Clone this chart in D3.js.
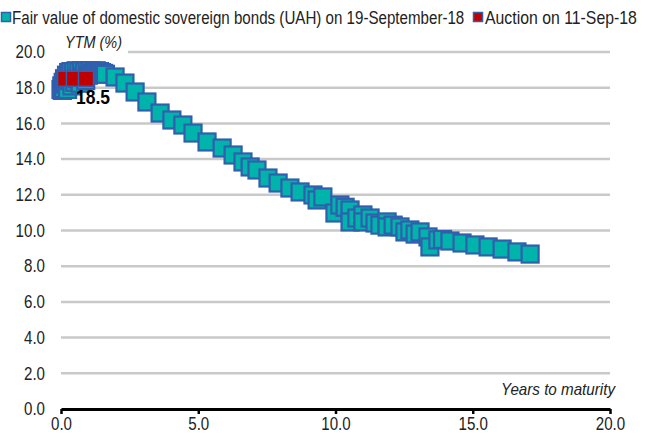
<!DOCTYPE html>
<html>
<head>
<meta charset="utf-8">
<script src="https://cdn.jsdelivr.net/npm/d3@7"></script>
<style>
  body { margin: 0; background: #fff; }
  svg text { font-family: "Liberation Sans", Arial, sans-serif; }
</style>
</head>
<body>
<div id="chart"></div>
<script>
// fair value curve, 19-Sep-18: years to maturity / YTM %
const fairYears = [0.0, 0.03, 0.05, 0.08, 0.1, 0.13, 0.16, 0.2, 0.24, 0.28, 0.32, 0.36, 0.4, 0.45, 0.5, 0.55, 0.6, 0.65, 0.7, 0.75,
  0.8, 0.85, 0.9, 0.95, 1.0, 1.05, 1.1, 1.16, 1.22, 1.28, 1.34, 1.4, 1.47, 1.55, 1.62,
  1.97, 2.33, 2.7, 3.13, 3.61, 4.04, 4.44, 4.81, 5.32, 5.87, 6.27, 6.63, 6.89, 7.14, 7.54, 7.91, 8.34, 8.71, 9.18, 9.33, 9.54,
  9.98, 10.16, 10.35, 10.53, 10.53, 10.78, 11.0, 11.0, 11.26, 11.44, 11.62, 11.88, 11.88, 12.1, 12.35, 12.53, 12.71, 12.9, 13.08,
  13.37, 13.44, 13.73, 13.9, 14.17, 14.61, 15.08, 15.56, 16.07, 16.61, 17.09];
const fairYtm = [17.9, 18.1, 17.85, 18.3, 17.95, 18.5, 18.2, 18.7, 17.9, 18.85, 18.4, 18.9, 18.1, 18.9, 18.3, 18.95, 18.5, 18.9, 18.25, 18.95,
  18.6, 18.9, 18.4, 18.95, 18.7, 18.9, 18.95, 18.8, 18.9, 18.95, 18.85, 18.9, 18.85, 18.8, 18.75,
  18.6, 18.26, 17.76, 17.2, 16.58, 16.19, 15.91, 15.46, 14.96, 14.62, 14.23, 13.84, 13.56, 13.39, 12.94, 12.66, 12.38, 12.16, 11.99, 11.71, 11.88,
  10.98, 11.43, 11.3, 11.15, 10.48, 10.7, 10.87, 10.48, 10.7, 10.42, 10.3, 10.48, 10.2, 10.3, 10.2, 9.92, 10.03, 9.8, 9.92,
  9.64, 9.08, 9.47, 9.5, 9.41, 9.3, 9.19, 9.08, 8.96, 8.8, 8.68];

// auction on 11-Sep-18
const auctionYears = [0.15, 0.47, 0.91];
const auctionYtm = [18.5, 18.5, 18.5];
const auctionLabel = "18.5";

const xTicks = [0, 5, 10, 15, 20];
const yTicks = [0, 2, 4, 6, 8, 10, 12, 14, 16, 18, 20];

const legendLabels = ["Fair value of domestic sovereign bonds (UAH) on 19-September-18", "Auction on 11-Sep-18"];

const W = 651, H = 439;
const margin = { top: 52, right: 41, bottom: 30, left: 61 };
const width = W - margin.left - margin.right;
const height = H - margin.top - margin.bottom;

const teal = "#00b3ab", blue = "#2f5fad", red = "#c00000";

const svg = d3.select("#chart").append("svg")
  .attr("width", W).attr("height", H);

const g = svg.append("g").attr("transform", `translate(${margin.left},${margin.top})`);

const x = d3.scaleLinear().domain([0, 20]).range([0, width]);
const y = d3.scaleLinear().domain([0, 20]).range([height, 0]);

// the original font is a narrow one: squash text horizontally around its anchor
function narrow(sel, k) {
  sel.each(function () {
    const t = d3.select(this);
    const tx = +t.attr("x") || 0, ty = +t.attr("y") || 0;
    t.attr("x", 0).attr("y", 0).attr("transform", `translate(${tx},${ty}) scale(${k},1)`);
  });
}
// squash to an exact width
function fitWidth(sel, w) {
  narrow(sel, w / sel.node().getComputedTextLength());
}

// gridlines
g.selectAll(".grid").data(yTicks.filter(d => d > 0)).join("line")
  .attr("class", "grid")
  .attr("x1", 0).attr("x2", width)
  .attr("y1", d => y(d)).attr("y2", d => y(d))
  .attr("stroke", "#c9c9c9").attr("stroke-width", 2.5);

// y tick labels (no axis line)
const yAxis = g.append("g")
  .call(d3.axisLeft(y).tickValues(yTicks).tickFormat(d3.format(".1f")).tickSize(0).tickPadding(16));
yAxis.select(".domain").remove();
yAxis.selectAll("text").attr("font-size", 18).attr("fill", "#222").attr("font-family", null);
narrow(yAxis.selectAll("text"), 0.84);

// x axis
const xAxis = g.append("g").attr("transform", `translate(0,${height})`)
  .call(d3.axisBottom(x).tickValues(xTicks).tickFormat(d3.format(".1f")).tickSize(5).tickSizeOuter(0).tickPadding(3));
xAxis.select(".domain").attr("stroke", "#000").attr("stroke-width", 3);
xAxis.selectAll(".tick line").attr("stroke", "#000").attr("stroke-width", 2.5);
xAxis.selectAll("text").attr("font-size", 18).attr("fill", "#222").attr("font-family", null);
narrow(xAxis.selectAll("text"), 0.84);

// axis titles
g.append("rect")
  .attr("x", 0).attr("y", y(20) - 3).attr("width", 67).attr("height", 6)
  .attr("fill", "#fff");
const ytmTitle = g.append("text")
  .attr("x", 4).attr("y", -4)
  .attr("font-size", 17).attr("font-style", "italic").attr("fill", "#222")
  .text("YTM (%)");
fitWidth(ytmTitle, 57);

const yrsTitle = g.append("text")
  .attr("x", width + 5).attr("y", y(0) - 14)
  .attr("text-anchor", "end")
  .attr("font-size", 17).attr("font-style", "italic").attr("fill", "#222")
  .text("Years to maturity");
fitWidth(yrsTitle, 114);

// markers
const fair = fairYears.map((v, i) => ({ yr: v, ytm: fairYtm[i] }));
const auction = auctionYears.map((v, i) => ({ yr: v, ytm: auctionYtm[i] }));

const s = 17;
g.selectAll(".fair").data(fair).join("rect")
  .attr("class", "fair")
  .attr("x", d => x(d.yr) - s / 2).attr("y", d => y(d.ytm) - s / 2)
  .attr("width", s).attr("height", s)
  .attr("fill", teal).attr("stroke", blue).attr("stroke-width", 2.2);

const sa = 15;
g.selectAll(".auction").data(auction).join("rect")
  .attr("class", "auction")
  .attr("x", d => x(d.yr) - sa / 2).attr("y", d => y(d.ytm) - sa / 2)
  .attr("width", sa).attr("height", sa)
  .attr("fill", red).attr("stroke", blue).attr("stroke-width", 1.5);

const lbl = g.append("text")
  .attr("x", x(auctionYears[2]) + 7).attr("y", y(auctionYtm[2]) + 25)
  .attr("text-anchor", "middle")
  .attr("font-size", 21).attr("font-weight", "bold").attr("fill", "#000")
  .text(auctionLabel);
fitWidth(lbl, 34);

// legend
const leg = svg.append("g");
leg.append("rect").attr("x", 1.5).attr("y", 12.5).attr("width", 9).attr("height", 9)
  .attr("fill", teal).attr("stroke", blue).attr("stroke-width", 1.5);
fitWidth(leg.append("text").attr("x", 12).attr("y", 24).attr("font-size", 18).attr("fill", "#222").text(legendLabels[0]), 453);
leg.append("rect").attr("x", 473.5).attr("y", 12.5).attr("width", 9).attr("height", 9)
  .attr("fill", red).attr("stroke", blue).attr("stroke-width", 1.5);
fitWidth(leg.append("text").attr("x", 485).attr("y", 24).attr("font-size", 18).attr("fill", "#222").text(legendLabels[1]), 152);
</script>
</body>
</html>
